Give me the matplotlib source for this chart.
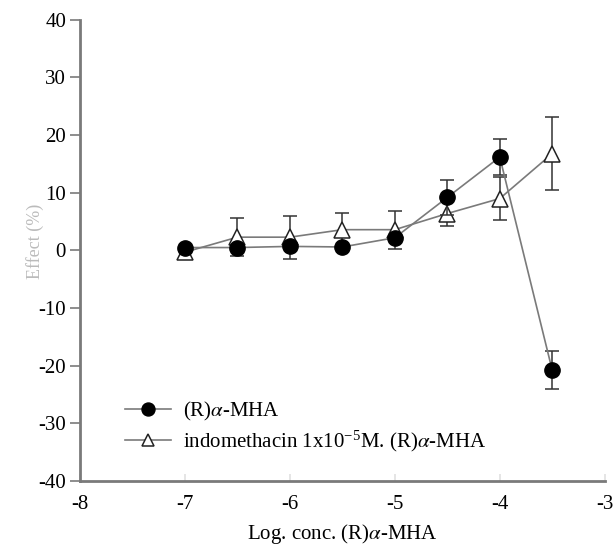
import numpy as np
import matplotlib
matplotlib.use("Agg")
from matplotlib import pyplot as plt

plt.rcParams['font.family'] = ['Liberation Serif', 'DejaVu Serif']
plt.rcParams['mathtext.fontset'] = 'stix'

# log concentration of (R)alpha-MHA
conc = [-7, -6.5, -6, -5.5, -5, -4.5, -4, -3.5]

# (R)alpha-MHA alone
mha = [0.5, 0.5, 0.7, 0.6, 2.2, 9.2, 16.2, -20.8]
mha_err = [0, 0, 0, 0, 0, 3.0, 3.2, 3.3]

# with indomethacin 1x10^-5 M
indo = [-0.3, 2.3, 2.3, 3.6, 3.6, 6.4, 9.0, 16.8]
indo_err = [0, 3.3, 3.7, 2.9, 3.3, 2.2, 3.7, 6.4]

grey = '#7a7a7a'

fig = plt.figure(figsize=(6.13, 5.51), dpi=100)
ax = fig.add_axes([0.1305, 0.127, 0.856, 0.837])


def err_bars(x, y, e, z):
    # only draw bars where an error was visible
    xs = [a for a, b in zip(x, e) if b > 0]
    ys = [a for a, b in zip(y, e) if b > 0]
    es = [b for b in e if b > 0]
    ax.errorbar(xs, ys, yerr=es, fmt='none', ecolor='#333333', elinewidth=1.1,
                capsize=5, capthick=1.1, zorder=z)


err_bars(conc, indo, indo_err, 1.5)
ax.plot(conc, indo, color=grey, lw=1.2, marker='^', ms=11, mfc='white',
        mec='#222222', mew=1.1, zorder=2,
        label='indomethacin 1x10$^{\\mathregular{-5}}$M. (R)$\\alpha$-MHA')
err_bars(conc, mha, mha_err, 2.5)
ax.plot(conc, mha, color=grey, lw=1.2, marker='o', ms=11, mfc='black',
        mec='black', zorder=3, label='(R)$\\alpha$-MHA')

ax.set_xlim(-8, -3)
ax.set_ylim(-40, 40)
ax.set_xticks([-8, -7, -6, -5, -4, -3])
ax.set_yticks([-40, -30, -20, -10, 0, 10, 20, 30, 40])
ax.set_xticklabels(['-8', '-7', '-6', '-5', '-4', '-3'])
ax.set_yticklabels(['-40', '-30', '-20', '-10', '0', '10', '20', '30', '40'])

for s in ['top', 'right']:
    ax.spines[s].set_visible(False)
for s in ['left', 'bottom']:
    ax.spines[s].set_color(grey)
    ax.spines[s].set_linewidth(2)

ax.tick_params(axis='y', direction='out', length=7, width=1.2, color=grey,
               labelsize=15, pad=3)
ax.tick_params(axis='x', direction='in', length=5, width=1.2, color='#e0e0e0',
               labelsize=15, pad=10)

ax.set_xlabel('Log. conc. (R)$\\alpha$-MHA', fontsize=15, labelpad=6)
ax.set_ylabel('Effect (%)', fontsize=13, color='#bbbbbb')
ax.yaxis.set_label_coords(-0.068, 0.52)

h, l = ax.get_legend_handles_labels()
ax.legend(h[::-1], l[::-1], loc='lower left', bbox_to_anchor=(0.07, 0.04),
          frameon=False, fontsize=15, handlelength=2.2, handletextpad=0.6,
          labelspacing=0.3, borderaxespad=0, markerscale=0.85)

fig.savefig('out.png', dpi=100)
